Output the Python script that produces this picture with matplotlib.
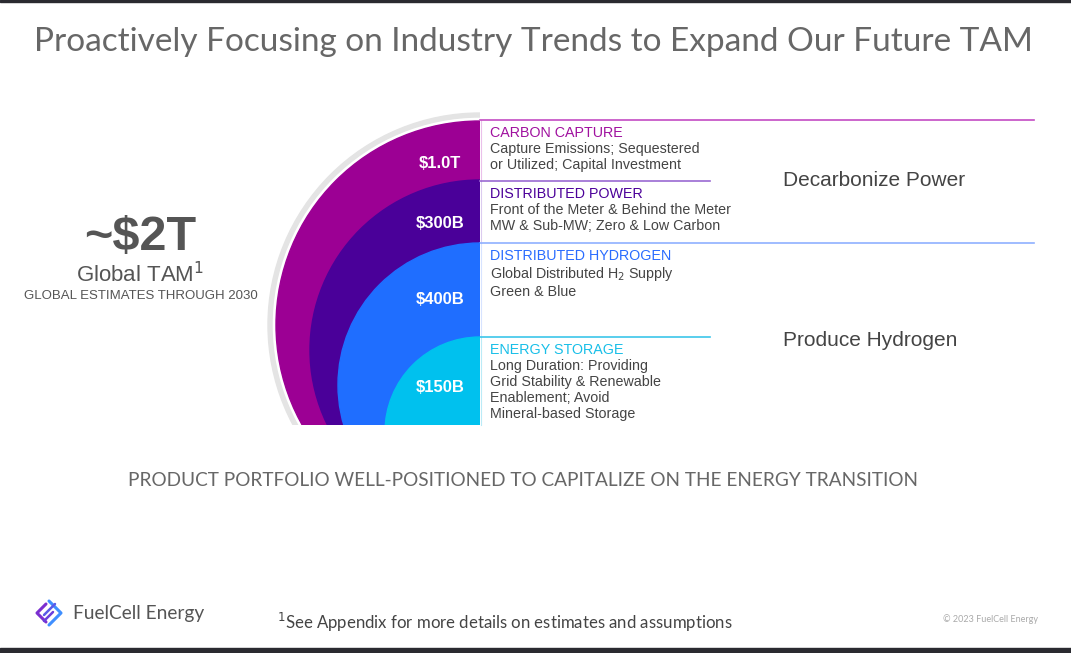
import matplotlib
matplotlib.use("Agg")
import matplotlib.pyplot as plt
from matplotlib.patches import Wedge, Rectangle

# segment data (outer -> inner)
segments = ["CARBON CAPTURE", "DISTRIBUTED POWER", "DISTRIBUTED HYDROGEN", "ENERGY STORAGE"]
tam_labels = ["$1.0T", "$300B", "$400B", "$150B"]
descriptions = [
    "Capture Emissions; Sequestered\nor Utilized; Capital Investment",
    "Front of the Meter & Behind the Meter\nMW & Sub-MW; Zero & Low Carbon",
    "Global Distributed H$_2$ Supply\nGreen & Blue",
    "Long Duration: Providing\nGrid Stability & Renewable\nEnablement; Avoid\nMineral-based Storage",
]
fill_colors = ["#9c0094", "#4a0099", "#1f6eff", "#00c1ee"]
head_colors = ["#a0119f", "#4b0099", "#2a6cff", "#18bfe8"]
line_colors = ["#c44cc4", "#9a6ad2", "#8fb0ff", "#3cc6ea"]
themes = ["Decarbonize Power", "Produce Hydrogen"]

# geometry in pixel coords
cx = 480
base_y = 425
centers_y = [325, 350, 385, 432]
radii = [204, 170, 142, 95]
tops = [120, 181, 243, 337]
line_ends = [1034, 710, 1034, 710]
label_y = [163, 224, 300, 387]

fig = plt.figure(figsize=(10.71, 6.53), dpi=100)
ax = fig.add_axes([0, 0, 1, 1])
ax.set_xlim(0, 1071)
ax.set_ylim(653, 0)
ax.axis("off")

body = "Liberation Sans"
light = "Lato"

# frame bars
ax.add_patch(Rectangle((0, 0), 1071, 2, color="#2a2a30"))
ax.add_patch(Rectangle((0, 648), 1071, 5, color="#2a2a30"))

ax.text(533, 42, "Proactively Focusing on Industry Trends to Expand Our Future TAM",
        ha="center", va="center", fontsize=24, color="#676767", family=light)

clip = Rectangle((0, 0), cx, base_y, transform=ax.transData)

# light grey outer ring
ring = Wedge((cx, centers_y[0]), radii[0] + 8, 90, 270, width=4, color="#e4e4e4", zorder=1)
ax.add_patch(ring)
ring.set_clip_path(clip)

for i in range(len(segments)):
    w = Wedge((cx, centers_y[i]), radii[i], 90, 270, color=fill_colors[i], zorder=2 + i)
    ax.add_patch(w)
    w.set_clip_path(clip)
    ax.text(440, label_y[i], tam_labels[i], ha="center", va="center", fontsize=12,
            fontweight="bold", color="white", family=body, zorder=10)

    ax.plot([cx, line_ends[i]], [tops[i], tops[i]], color=line_colors[i], lw=1.2, zorder=3)
    bottom = tops[i + 1] if i + 1 < len(tops) else base_y
    ax.plot([cx + 1, cx + 1], [tops[i], bottom], color=line_colors[i], lw=0.8, alpha=0.35)
    ax.text(490, tops[i] + 13, segments[i], ha="left", va="center", fontsize=10.3,
            color=head_colors[i], family=body)
    ax.text(490, tops[i] + 22, descriptions[i], ha="left", va="top", fontsize=10.3,
            color="#444444", family=body, linespacing=1.19)

ax.text(783, 180, themes[0], ha="left", va="center", fontsize=15, color="#444444", family=body)
ax.text(783, 340, themes[1], ha="left", va="center", fontsize=15, color="#444444", family=body)

# left summary
ax.text(140, 237, "~$2T", ha="center", va="center", fontsize=35, fontweight="bold",
        color="#555555", family=body)
ax.text(140, 275, "Global TAM$^1$", ha="center", va="center", fontsize=16,
        color="#555555", family=body)
ax.text(141, 296, "GLOBAL ESTIMATES THROUGH 2030", ha="center", va="center", fontsize=9.5,
        color="#555555", family=body)

ax.text(523, 481, "PRODUCT PORTFOLIO WELL-POSITIONED TO CAPITALIZE ON THE ENERGY TRANSITION",
        ha="center", va="center", fontsize=13.7, color="#676767", family=light)

# footer
ax.text(277, 622, "$^1$See Appendix for more details on estimates and assumptions",
        ha="left", va="center", fontsize=12.1, color="#444444", family=light)
ax.text(1038, 619, "\u00a9 2023 FuelCell Energy", ha="right", va="center", fontsize=6.5,
        color="#aaaaaa", family=light)
ax.text(73, 614, "FuelCell Energy", ha="left", va="center", fontsize=13.8,
        color="#555555", family=light)

# logo mark
ax.plot([49, 61, 49], [601, 613, 625], color="#3f8fff", lw=2.2, solid_capstyle="round")
ax.plot([46, 37, 46], [604, 613, 622], color="#7b2fd0", lw=2.2, solid_capstyle="round")
ax.plot([44, 55], [615, 604], color="#5a5ae8", lw=1.8, solid_capstyle="round")
ax.plot([44, 53], [621, 612], color="#6a40dc", lw=1.8, solid_capstyle="round")

fig.savefig("out.png", dpi=100, facecolor="white")
